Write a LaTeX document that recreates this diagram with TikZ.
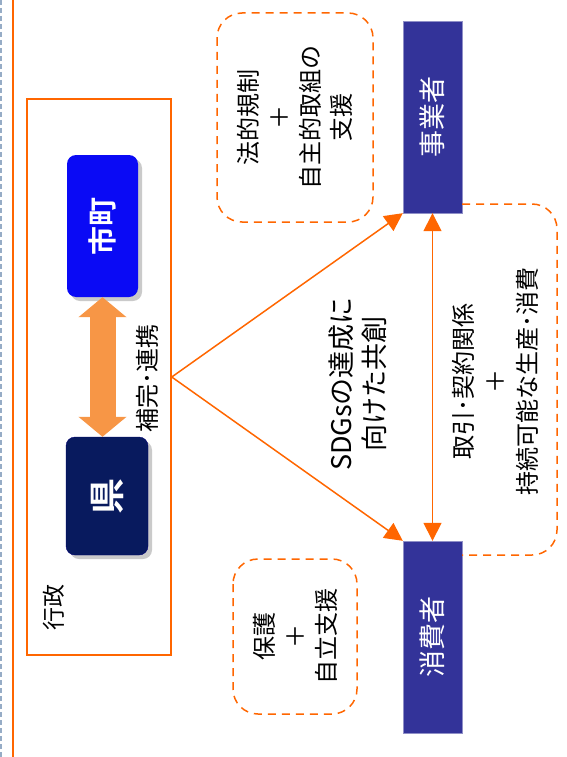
\documentclass[tikz,border=0pt]{standalone}
\usepackage{fontspec}
\setmainfont{Noto Sans CJK JP}[BoldFont={Noto Sans CJK JP Bold}]
\usepackage{graphicx}
\usepackage{tikz}
\usetikzlibrary{shapes,arrows}
\usetikzlibrary{arrows.meta}
\usetikzlibrary{positioning}
\usetikzlibrary{shadows}
\definecolor{lineorange}{RGB}{255,102,0}
\definecolor{fatorange}{RGB}{247,150,70}
\definecolor{indigo}{RGB}{51,51,153}
\definecolor{cityblue}{RGB}{10,10,245}
\definecolor{prefnavy}{RGB}{8,26,94}
\definecolor{edgegray}{RGB}{150,172,198}
\tikzstyle{actor} = [draw=indigo!55, fill=indigo, text=white, minimum width=59pt,
minimum height=192pt, inner sep=0pt, font=\fontsize{27}{27}\selectfont]
\tikzstyle{dashline} = [draw=lineorange, dash pattern=on 8pt off 6pt, line width=1.5pt,
rounded corners=25pt]
\tikzstyle{line} = [draw=lineorange, line width=1.5pt, -{Triangle[length=18pt,width=18pt]}]

\begin{document}
\begin{tikzpicture}[x=1pt, y=-1pt,
	memo/.style={dashline, rotate=90, align=center, font=\fontsize{24}{31}\selectfont},
	city/.style={rounded corners=9pt, text=white, inner sep=0pt,
		drop shadow={shadow xshift=4pt, shadow yshift=-4pt, fill=black!35, opacity=.6}}]
	\useasboundingbox (0,0) rectangle (566,757);
	\draw [edgegray, line width=2pt, dash pattern=on 5pt off 3pt] (1,0) -- (1,757);
	\draw [lineorange, line width=1.5pt] (13,0) -- (13,757);
	%% Administration
	\node [draw=lineorange, line width=1.5pt, minimum width=144pt, minimum height=556pt, inner sep=0pt] (G) at (99,377) {};
	\node [rotate=90, font=\fontsize{23}{23}\selectfont] (g) at (54,607) {行政};
	\node [city, fill=cityblue, minimum width=71pt, minimum height=142pt,
		font=\bfseries\fontsize{29}{29}\selectfont] (M) at (102.5,226) {\rotatebox{90}{市町}};
	\node [city, fill=prefnavy, draw=blue!45!black, minimum width=82pt, minimum height=118pt,
		font=\bfseries\fontsize{36}{36}\selectfont] (K) at (107,496) {\rotatebox{90}{県}};
	\draw [fatorange, line width=26pt, {Triangle[length=20pt,width=47pt]}-{Triangle[length=20pt,width=47pt]}]
		(M.south) -- (M.south |- K.north);
	\node [rotate=90, font=\fontsize{24}{24}\selectfont] (h) at (147,378) {補完･連携};
	%% Businesses and consumers
	\node [actor] (J) at (432.5,117) {\rotatebox{90}{事業者}};
	\node [actor] (C) at (432.5,637) {\rotatebox{90}{消費者}};
	\node [memo, minimum width=209pt, minimum height=156pt] (r) at (295,117.5) {法的規制\\＋\\自主的取組の\\支援};
	\node [memo, minimum width=155pt, minimum height=124pt] (p) at (295,636.5) {保護\\＋\\自立支援};
	\draw [dashline] (J.east |- 0,204) -- (557,204) -- (557,555) -- (C.east |- 0,555);
	\node [rotate=90, align=center, font=\fontsize{27}{33}\selectfont] (s) at (358,384) {SDGsの達成に\\向けた共創};
	\node [rotate=90, align=center, font=\fontsize{24}{32}\selectfont] (t) at (495,381) {取引･契約関係\\＋\\持続可能な生産･消費};
	%% Arrows
	\path [line] (G.east) to (J.south west);
	\path [line] (G.east) to (C.north west);
	\path [line, {Triangle[length=18pt,width=18pt]}-{Triangle[length=18pt,width=18pt]}] (J.south) to (C.north);
\end{tikzpicture}
\end{document}
